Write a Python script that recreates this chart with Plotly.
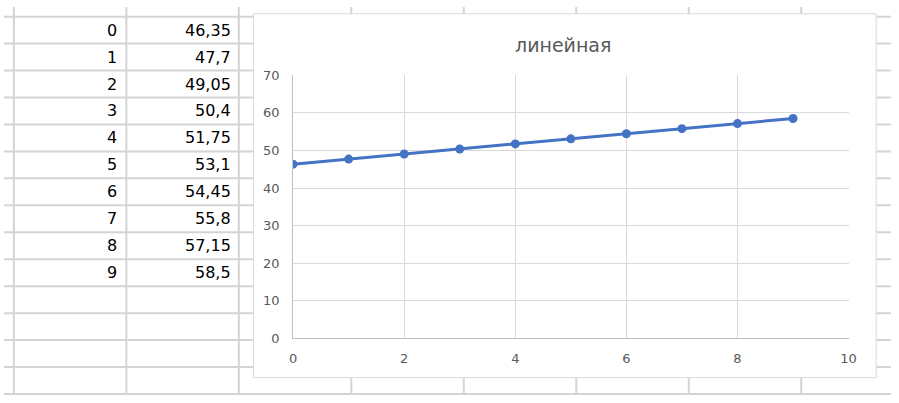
import plotly.graph_objects as go

W, H = 899, 403

# data from the sheet
x_vals = [0, 1, 2, 3, 4, 5, 6, 7, 8, 9]
y_vals = [46.35, 47.7, 49.05, 50.4, 51.75, 53.1, 54.45, 55.8, 57.15, 58.5]
chart_title = "линейная"
x_ticks = [0, 2, 4, 6, 8, 10]
y_ticks = [0, 10, 20, 30, 40, 50, 60, 70]


def px(x):
    return x / W


def py(y):
    return 1 - y / H


fig = go.Figure()

fig.add_trace(go.Scatter(
    x=x_vals, y=y_vals,
    mode="lines+markers",
    line=dict(color="#4472C4", width=3),
    marker=dict(color="#4472C4", size=9),
    showlegend=False,
))

# spreadsheet grid behind the chart
shapes = []
grid_col = "#d4d4d4"
for k in range(15):
    yy = 10 + 28 * k
    shapes.append(dict(type="line", xref="paper", yref="paper",
                       x0=0, x1=1, y0=py(yy), y1=py(yy),
                       line=dict(color=grid_col, width=2), layer="below"))
for xx in [10, 124, 238, 352, 466, 580, 694, 808]:
    shapes.append(dict(type="line", xref="paper", yref="paper",
                       x0=px(xx), x1=px(xx), y0=0, y1=1,
                       line=dict(color=grid_col, width=2), layer="below"))
# chart box
shapes.append(dict(type="rect", xref="paper", yref="paper",
                   x0=px(253), x1=px(884), y0=py(385), y1=py(7),
                   fillcolor="white", line=dict(color="#d9d9d9", width=1),
                   layer="below"))

# cell texts
annotations = []
for i, (a, b) in enumerate(zip(x_vals, y_vals)):
    yc = py(24 + 28 * i)
    for xr, v in [(117, str(a)), (232, str(b).replace(".", ","))]:
        annotations.append(dict(x=px(xr), y=yc, xref="paper", yref="paper",
                                text=v, showarrow=False, xanchor="right",
                                yanchor="middle",
                                font=dict(family="DejaVu Sans", size=16, color="black")))

annotations.append(dict(x=px(567), y=py(39), xref="paper", yref="paper",
                        text=chart_title, showarrow=False, xanchor="center",
                        yanchor="middle",
                        font=dict(family="DejaVu Sans", size=19, color="#595959")))

fig.update_layout(
    autosize=True,
    margin=dict(l=0, r=0, t=0, b=0),
    paper_bgcolor="white", plot_bgcolor="white",
    shapes=shapes, annotations=annotations,
    xaxis=dict(domain=[px(293), px(856)], range=[0, 10],
               tickvals=x_ticks, showgrid=True, gridcolor="#d9d9d9", gridwidth=1,
               zeroline=False, showline=True, linecolor="#bfbfbf", linewidth=1,
               ticks="", ticklabelstandoff=8,
               tickfont=dict(family="DejaVu Sans", size=13, color="#595959")),
    yaxis=dict(domain=[py(344), py(71)], range=[0, 70],
               tickvals=y_ticks, showgrid=True, gridcolor="#d9d9d9", gridwidth=1,
               zeroline=False, showline=True, linecolor="#bfbfbf", linewidth=1,
               ticks="", ticklabelstandoff=10,
               tickfont=dict(family="DejaVu Sans", size=13, color="#595959")),
)

fig.write_html(
    "out.html",
    default_width="100vw",
    default_height="100vh",
    config={"displayModeBar": False},
    post_script="document.documentElement.style.overflow='hidden';"
                "document.body.style.overflow='hidden';"
                "document.body.style.margin='0';",
)
